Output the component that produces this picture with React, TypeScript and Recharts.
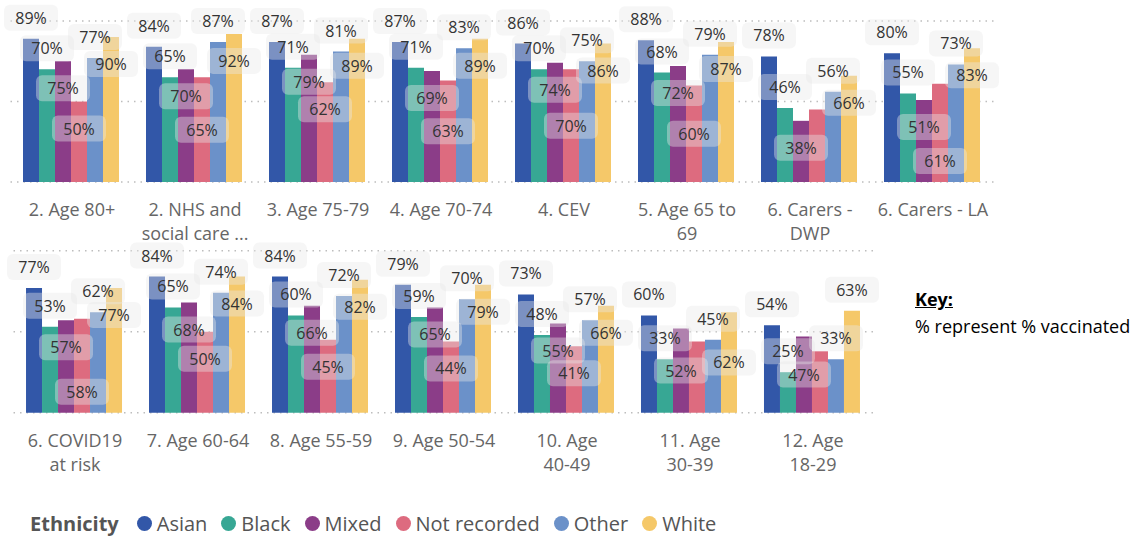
import React from "react";
import { BarChart, Bar, XAxis, YAxis, CartesianGrid, LabelList } from "recharts";

const FONT = "'Segoe UI', 'Open Sans', sans-serif";

const ethnicities = ["Asian", "Black", "Mixed", "Not recorded", "Other", "White"];
const colors = ["#3257A8", "#37A794", "#8B3D88", "#DD6B7F", "#6B91C9", "#F5C869"];

// top row of small multiples
const topTicks = [
  ["2. Age 80+"],
  ["2. NHS and", "social care ..."],
  ["3. Age 75-79"],
  ["4. Age 70-74"],
  ["4. CEV"],
  ["5. Age 65 to", "69"],
  ["6. Carers -", "DWP"],
  ["6. Carers - LA"],
];
const topAsian = [89, 84, 87, 87, 86, 88, 78, 80];
const topBlack = [70, 65, 71, 71, 70, 68, 46, 55];
const topMixed = [75, 70, 79, 69, 74, 72, 38, 51];
const topNotRecorded = [50, 65, 62, 63, 70, 60, 45, 61];
const topOther = [77, 87, 81, 83, 75, 79, 56, 73];
const topWhite = [90, 92, 89, 89, 86, 87, 66, 83];

// bottom row
const bottomTicks = [
  ["6. COVID19", "at risk"],
  ["7. Age 60-64"],
  ["8. Age 55-59"],
  ["9. Age 50-54"],
  ["10. Age", "40-49"],
  ["11. Age", "30-39"],
  ["12. Age", "18-29"],
];
const bottomAsian = [77, 84, 84, 79, 73, 60, 54];
const bottomBlack = [53, 65, 60, 59, 48, 33, 25];
const bottomMixed = [57, 68, 66, 65, 55, 52, 47];
const bottomNotRecorded = [58, 50, 45, 44, 41, 44, 38];
const bottomOther = [62, 74, 72, 70, 57, 45, 33];
const bottomWhite = [77, 84, 82, 79, 66, 62, 63];

const topSeries = [topAsian, topBlack, topMixed, topNotRecorded, topOther, topWhite];
const bottomSeries = [bottomAsian, bottomBlack, bottomMixed, bottomNotRecorded, bottomOther, bottomWhite];

const buildRows = (ticks: string[][], series: number[][]) =>
  ticks.map((lines, i) => {
    const row: Record<string, any> = { name: lines.join(" ") };
    ethnicities.forEach((e, j) => (row[e] = series[j][i]));
    return row;
  });

// label collision settings (label box size + offsets from the bar)
const LW = 44;
const LH = 21.5;
const OUT = 21;
const IN = 27;
const BASE = 21;

function makeLabels(series: number[][], step: number, plotLeft: number) {
  return function RowLabels(props: any) {
    const vb = props.viewBox ?? {};
    const x = Number(vb.x ?? props.x);
    const y = Number(vb.y ?? props.y);
    const width = Number(vb.width ?? props.width);
    const height = Number(vb.height ?? props.height);
    const n = series[0].length;
    const idx: number =
      typeof props.index === "number" ? props.index : Math.floor((x - plotLeft) / step);
    const baseline = y + height;
    const px = height / series[5][idx];
    const last = series.length - 1;

    // place labels series by series across the row, skipping ones that collide
    const placed: { cx: number; cy: number }[] = [];
    const mine: { cx: number; cy: number; v: number }[] = [];
    for (let j = 0; j < series.length; j++) {
      for (let c = 0; c < n; c++) {
        const v = series[j][c];
        const cx = x + (c - idx) * step + (j - last) * width + width / 2;
        const top = baseline - v * px;
        const cands = [top - OUT, top + IN, (top + baseline) / 2, baseline - BASE];
        for (const cy of cands) {
          const hit = placed.some((p) => Math.abs(p.cx - cx) < LW && Math.abs(p.cy - cy) < LH);
          if (!hit) {
            placed.push({ cx, cy });
            if (c === idx) mine.push({ cx, cy, v });
            break;
          }
        }
      }
    }

    return (
      <g>
        {mine.map((m, k) => (
          <g key={k}>
            <rect
              x={m.cx - 27}
              y={m.cy - 13}
              width={54}
              height={26}
              rx={6}
              fill="#E8E8E8"
              fillOpacity={0.4}
            />
            <text
              x={m.cx}
              y={m.cy}
              textAnchor="middle"
              dominantBaseline="central"
              fontSize={16}
              fontFamily={FONT}
              fill="#333"
            >
              {m.v}%
            </text>
          </g>
        ))}
      </g>
    );
  };
}

function makeTick(ticks: string[][]) {
  const byName = new Map(ticks.map((l) => [l.join(" "), l]));
  return function Tick(props: any) {
    const { x, y, payload } = props;
    const lines = byName.get(payload.value) ?? [String(payload.value)];
    return (
      <text x={x} y={y} textAnchor="middle" fill="#666" fontSize={18} fontFamily={FONT}>
        {lines.map((l, i) => (
          <tspan key={i} x={x} dy={i === 0 ? 26 : 24}>
            {l}
          </tspan>
        ))}
      </text>
    );
  };
}

interface RowProps {
  ticks: string[][];
  series: number[][];
  top: number;
  marginTop: number;
  marginLeft: number;
  plotHeight: number;
}

const STEP = 123;
const AXIS_H = 70;

function SmallMultipleRow({ ticks, series, top, marginTop, marginLeft, plotHeight }: RowProps) {
  const data = buildRows(ticks, series);
  const width = marginLeft + STEP * ticks.length + 5.5;
  const height = marginTop + plotHeight + AXIS_H;
  return (
    <div style={{ position: "absolute", left: 0, top }}>
      <BarChart
        width={width}
        height={height}
        data={data}
        margin={{ top: marginTop, left: marginLeft, right: 5.5, bottom: 0 }}
        barGap={0}
        barCategoryGap={12.5}
      >
        <CartesianGrid
          vertical={false}
          stroke="#BDBDBD"
          strokeWidth={1.5}
          strokeDasharray="1.5 5"
        />
        <XAxis
          dataKey="name"
          interval={0}
          tickLine={false}
          axisLine={false}
          height={AXIS_H}
          tick={makeTick(ticks)}
        />
        <YAxis hide type="number" domain={[0, 100]} ticks={[0, 50, 100]} />
        {ethnicities.map((e, j) => (
          <Bar key={e} dataKey={e} fill={colors[j]} isAnimationActive={false}>
            {j === ethnicities.length - 1 && (
              <LabelList dataKey={e} content={makeLabels(series, STEP, marginLeft)} />
            )}
          </Bar>
        ))}
      </BarChart>
    </div>
  );
}

export default function App() {
  return (
    <div
      style={{
        position: "absolute",
        left: 0,
        top: 0,
        width: 1144,
        height: 538,
        background: "#fff",
        overflow: "hidden",
        fontFamily: FONT,
      }}
    >
      <SmallMultipleRow
        ticks={topTicks}
        series={topSeries}
        top={0}
        marginTop={21}
        marginLeft={10.5}
        plotHeight={161}
      />
      <SmallMultipleRow
        ticks={bottomTicks}
        series={bottomSeries}
        top={230}
        marginTop={20.7}
        marginLeft={13.5}
        plotHeight={162}
      />

      <div style={{ position: "absolute", left: 915, top: 286, fontSize: 18, lineHeight: "27px", color: "#000" }}>
        <div style={{ fontWeight: 700, textDecoration: "underline" }}>Key:</div>
        <div>% represent % vaccinated</div>
      </div>

      <div
        style={{
          position: "absolute",
          left: 30,
          top: 510,
          display: "flex",
          alignItems: "center",
          fontSize: 20,
          color: "#555",
          whiteSpace: "nowrap",
        }}
      >
        <span style={{ fontWeight: 700, marginRight: 18 }}>Ethnicity</span>
        {ethnicities.map((e, i) => (
          <span key={e} style={{ display: "flex", alignItems: "center", marginRight: 14 }}>
            <span
              style={{
                width: 15,
                height: 15,
                borderRadius: "50%",
                background: colors[i],
                marginRight: 5,
                display: "inline-block",
              }}
            />
            {e}
          </span>
        ))}
      </div>
    </div>
  );
}
